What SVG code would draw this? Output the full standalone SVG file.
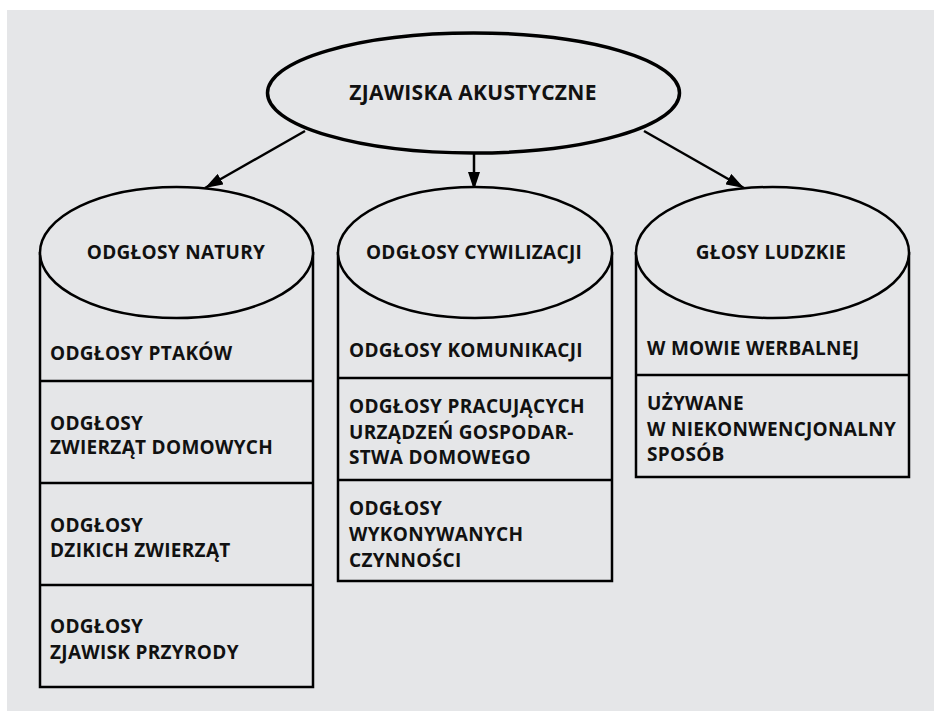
<svg xmlns="http://www.w3.org/2000/svg" width="934" height="712" viewBox="0 0 934 712">
<defs>
<marker id="ah" viewBox="0 0 18 12" refX="18" refY="6" markerWidth="18" markerHeight="12" markerUnits="userSpaceOnUse" orient="auto">
<path d="M0,0 L18,6 L0,12 Z" fill="#000"/>
</marker>
<style>
.t{font-family:"Open Sans","Liberation Sans",sans-serif;font-weight:700;font-size:19px;letter-spacing:0.3px;fill:#111}
.c{text-anchor:middle}
.s{fill:none;stroke:#000;stroke-width:2.5}
.e{fill:#e5e6e8;stroke:#000;stroke-width:2.5}
</style>
</defs>
<rect x="0" y="0" width="934" height="712" fill="#fff"/>
<rect x="7" y="10" width="927" height="701" fill="#e5e6e8"/>

<g id="connectors" stroke="#000" stroke-width="2.5" fill="none">
<line x1="305" y1="131" x2="205" y2="188" marker-end="url(#ah)"/>
<line x1="474" y1="153" x2="474" y2="190" marker-end="url(#ah)"/>
<line x1="644" y1="131" x2="744" y2="188" marker-end="url(#ah)"/>
</g>

<g id="root">
<ellipse cx="473.5" cy="93" rx="206" ry="60" fill="#e5e6e8" stroke="#000" stroke-width="3.5"/>
<text class="t c" x="473" y="100" style="font-size:21px">ZJAWISKA AKUSTYCZNE</text>
</g>

<g id="natura">
<path class="s" d="M40,252 V687 H313 V252 M40,381 H313 M40,483 H313 M40,585 H313"/>
<ellipse class="e" cx="176.5" cy="252.5" rx="136.5" ry="65.5"/>
<text class="t c" x="176" y="259">ODGŁOSY NATURY</text>
<text class="t" x="50" y="360">ODGŁOSY PTAKÓW</text>
<text class="t" x="50" y="430">ODGŁOSY</text>
<text class="t" x="50" y="454">ZWIERZĄT DOMOWYCH</text>
<text class="t" x="50" y="532">ODGŁOSY</text>
<text class="t" x="50" y="557">DZIKICH ZWIERZĄT</text>
<text class="t" x="50" y="633">ODGŁOSY</text>
<text class="t" x="50" y="659">ZJAWISK PRZYRODY</text>
</g>

<g id="cywilizacja">
<path class="s" d="M338,252 V581 H612 V252 M338,378 H612 M338,480 H612"/>
<ellipse class="e" cx="475" cy="252.5" rx="137" ry="65.5"/>
<text class="t c" x="474" y="259">ODGŁOSY CYWILIZACJI</text>
<text class="t" x="349" y="357">ODGŁOSY KOMUNIKACJI</text>
<text class="t" x="349" y="413">ODGŁOSY PRACUJĄCYCH</text>
<text class="t" x="349" y="439">URZĄDZEŃ GOSPODAR-</text>
<text class="t" x="349" y="464">STWA DOMOWEGO</text>
<text class="t" x="349" y="515">ODGŁOSY</text>
<text class="t" x="349" y="541">WYKONYWANYCH</text>
<text class="t" x="349" y="567">CZYNNOŚCI</text>
</g>

<g id="ludzkie">
<path class="s" d="M636,252 V477 H909 V252 M636,375 H909"/>
<ellipse class="e" cx="772.5" cy="252.5" rx="136.5" ry="65.5"/>
<text class="t c" x="771" y="259">GŁOSY LUDZKIE</text>
<text class="t" x="647" y="355">W MOWIE WERBALNEJ</text>
<text class="t" x="647" y="410">UŻYWANE</text>
<text class="t" x="647" y="436">W NIEKONWENCJONALNY</text>
<text class="t" x="647" y="461">SPOSÓB</text>
</g>
</svg>
